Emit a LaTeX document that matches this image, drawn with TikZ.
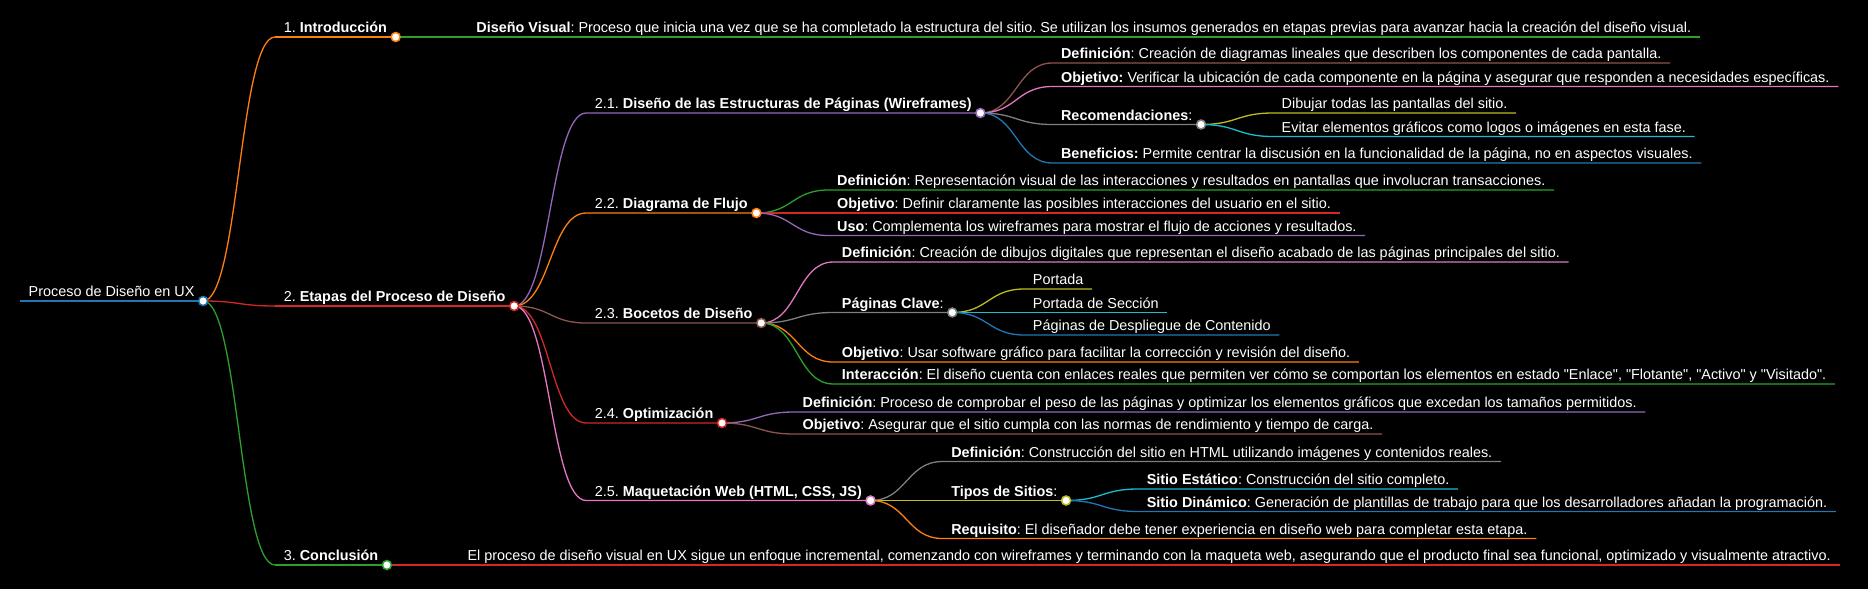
\documentclass[tikz,border=0pt]{standalone}
\usepackage{fontspec}
\newfontfamily\mmfont{Liberation Sans}
\usepackage{xcolor}
\definecolor{mmblue}{HTML}{1F77B4}
\definecolor{mmorange}{HTML}{FF7F0E}
\definecolor{mmgreen}{HTML}{2CA02C}
\definecolor{mmred}{HTML}{D62728}
\definecolor{mmpurple}{HTML}{9467BD}
\definecolor{mmbrown}{HTML}{8C564B}
\definecolor{mmpink}{HTML}{E377C2}
\definecolor{mmgray}{HTML}{7F7F7F}
\definecolor{mmolive}{HTML}{BCBD22}
\definecolor{mmcyan}{HTML}{17BECF}
\tikzset{
  every node/.style={
    text=white, font=\mmfont\fontsize{14.4}{17}\selectfont\frenchspacing
  }
}
\usetikzlibrary{positioning}
\usetikzlibrary{calc}

\begin{document}
\begin{tikzpicture}[x=1pt,y=1pt,
    topic/.style={anchor=south west, inner xsep=8.5pt, inner ysep=4pt,
      text height=10.5pt, text depth=0pt},
    link/.style={line width=1.3pt},
    nodedot/.style={circle, fill=white, line width=1.5pt,
      minimum size=9pt, inner sep=0pt}]
    \useasboundingbox (0,0) rectangle (1868,-589);
    \fill[black] (0,0) rectangle (1868,-589);

    % root and first level
    \node[topic] (root) at (20,-301) {Proceso de Diseño en UX};
    \node[topic, right=72pt of root.south east, anchor=south west, yshift=264pt] (intro) {1. \textbf{Introducción}};
    \node[topic, right=72pt of root.south east, anchor=south west, yshift=-5pt] (etapas) {2. \textbf{Etapas del Proceso de Diseño}};
    \node[topic, right=72pt of root.south east, anchor=south west, yshift=-264pt] (concl) {3. \textbf{Conclusión}};

    \node[topic, right=72pt of intro.south east, anchor=south west] (vis) {\textbf{Diseño Visual}: Proceso que inicia una vez que se ha completado la estructura del sitio. Se utilizan los insumos generados en etapas previas para avanzar hacia la creación del diseño visual.};
    \node[topic, right=72pt of concl.south east, anchor=south west] (fin) {El proceso de diseño visual en UX sigue un enfoque incremental, comenzando con wireframes y terminando con la maqueta web, asegurando que el producto final sea funcional, optimizado y visualmente atractivo.};

    % etapas
    \node[topic, right=72pt of etapas.south east, anchor=south west, yshift=193pt] (wire) {2.1. \textbf{Diseño de las Estructuras de Páginas (Wireframes)}};
    \node[topic, right=72pt of etapas.south east, anchor=south west, yshift=93pt] (flujo) {2.2. \textbf{Diagrama de Flujo}};
    \node[topic, right=72pt of etapas.south east, anchor=south west, yshift=-17pt] (boce) {2.3. \textbf{Bocetos de Diseño}};
    \node[topic, right=72pt of etapas.south east, anchor=south west, yshift=-117pt] (opti) {2.4. \textbf{Optimización}};
    \node[topic, right=72pt of etapas.south east, anchor=south west, yshift=-194.5pt] (maq) {2.5. \textbf{Maquetación Web (HTML, CSS, JS)}};

    % wireframes
    \node[topic, right=72pt of wire.south east, anchor=south west, yshift=50pt] (wdef) {\textbf{Definición}: Creación de diagramas lineales que describen los componentes de cada pantalla.};
    \node[topic, right=72pt of wire.south east, anchor=south west, yshift=26.5pt] (wobj) {\textbf{Objetivo:} Verificar la ubicación de cada componente en la página y asegurar que responden a necesidades específicas.};
    \node[topic, right=72pt of wire.south east, anchor=south west, yshift=-11.5pt] (wrec) {\textbf{Recomendaciones}:};
    \node[topic, right=72pt of wire.south east, anchor=south west, yshift=-50pt] (wben) {\textbf{Beneficios:} Permite centrar la discusión en la funcionalidad de la página, no en aspectos visuales.};
    \node[topic, right=72pt of wrec.south east, anchor=south west, yshift=11.5pt] (wrec1) {Dibujar todas las pantallas del sitio.};
    \node[topic, right=72pt of wrec.south east, anchor=south west, yshift=-12pt] (wrec2) {Evitar elementos gráficos como logos o imágenes en esta fase.};

    % flujo
    \node[topic, right=72pt of flujo.south east, anchor=south west, yshift=23pt] (fdef) {\textbf{Definición}: Representación visual de las interacciones y resultados en pantallas que involucran transacciones.};
    \node[topic, right=72pt of flujo.south east, anchor=south west] (fobj) {\textbf{Objetivo}: Definir claramente las posibles interacciones del usuario en el sitio.};
    \node[topic, right=72pt of flujo.south east, anchor=south west, yshift=-22.5pt] (fuso) {\textbf{Uso}: Complementa los wireframes para mostrar el flujo de acciones y resultados.};

    % bocetos
    \node[topic, right=72pt of boce.south east, anchor=south west, yshift=61pt] (bdef) {\textbf{Definición}: Creación de dibujos digitales que representan el diseño acabado de las páginas principales del sitio.};
    \node[topic, right=72pt of boce.south east, anchor=south west, yshift=10.5pt] (bpag) {\textbf{Páginas Clave}:};
    \node[topic, right=72pt of boce.south east, anchor=south west, yshift=-39pt] (bobj) {\textbf{Objetivo}: Usar software gráfico para facilitar la corrección y revisión del diseño.};
    \node[topic, right=72pt of boce.south east, anchor=south west, yshift=-61pt] (bint) {\textbf{Interacción}: El diseño cuenta con enlaces reales que permiten ver cómo se comportan los elementos en estado "Enlace", "Flotante", "Activo" y "Visitado".};
    \node[topic, right=72pt of bpag.south east, anchor=south west, yshift=23.5pt] (bpag1) {Portada};
    \node[topic, right=72pt of bpag.south east, anchor=south west] (bpag2) {Portada de Sección};
    \node[topic, right=72pt of bpag.south east, anchor=south west, yshift=-22.5pt] (bpag3) {Páginas de Despliegue de Contenido};

    % optimizacion
    \node[topic, right=72pt of opti.south east, anchor=south west, yshift=11pt] (odef) {\textbf{Definición}: Proceso de comprobar el peso de las páginas y optimizar los elementos gráficos que excedan los tamaños permitidos.};
    \node[topic, right=72pt of opti.south east, anchor=south west, yshift=-11pt] (oobj) {\textbf{Objetivo}: Asegurar que el sitio cumpla con las normas de rendimiento y tiempo de carga.};

    % maquetacion
    \node[topic, right=72pt of maq.south east, anchor=south west, yshift=39pt] (mdef) {\textbf{Definición}: Construcción del sitio en HTML utilizando imágenes y contenidos reales.};
    \node[topic, right=72pt of maq.south east, anchor=south west] (mtip) {\textbf{Tipos de Sitios}:};
    \node[topic, right=72pt of maq.south east, anchor=south west, yshift=-38pt] (mreq) {\textbf{Requisito}: El diseñador debe tener experiencia en diseño web para completar esta etapa.};
    \node[topic, right=72pt of mtip.south east, anchor=south west, yshift=11.5pt] (mtip1) {\textbf{Sitio Estático}: Construcción del sitio completo.};
    \node[topic, right=72pt of mtip.south east, anchor=south west, yshift=-11pt] (mtip2) {\textbf{Sitio Dinámico}: Generación de plantillas de trabajo para que los desarrolladores añadan la programación.};

    % links, parent/child/colour
    \foreach \a/\b/\col in {root/intro/mmorange, root/etapas/mmred, root/concl/mmgreen,
        intro/vis/mmgreen, concl/fin/mmred,
        etapas/wire/mmpurple, etapas/flujo/mmorange, etapas/boce/mmbrown, etapas/opti/mmred, etapas/maq/mmpink,
        wire/wdef/mmbrown, wire/wobj/mmpink, wire/wrec/mmgray, wire/wben/mmblue,
        wrec/wrec1/mmolive, wrec/wrec2/mmcyan,
        flujo/fdef/mmgreen, flujo/fobj/mmred, flujo/fuso/mmpurple,
        boce/bdef/mmpink, boce/bpag/mmgray, boce/bobj/mmorange, boce/bint/mmgreen,
        bpag/bpag1/mmolive, bpag/bpag2/mmcyan, bpag/bpag3/mmblue,
        opti/odef/mmpurple, opti/oobj/mmbrown,
        maq/mdef/mmgray, maq/mtip/mmolive, maq/mreq/mmorange,
        mtip/mtip1/mmcyan, mtip/mtip2/mmblue}
      \draw[link,\col] let \p1=(\a.south east), \p2=(\b.south west) in
        (\p1) .. controls ({(\x1+\x2)/2},\y1) and ({(\x1+\x2)/2},\y2) .. (\p2)
        -- (\b.south east);

    \draw[line width=2pt,mmblue] (root.south west) -- (root.south east);
    \foreach \a/\col in {intro/mmorange, etapas/mmred, concl/mmgreen}
      \draw[link,\col] (\a.south west) -- (\a.south east);

    % dots on nodes with children
    \foreach \a/\col in {root/mmblue, intro/mmorange, etapas/mmred, concl/mmgreen,
        wire/mmpurple, flujo/mmorange, boce/mmbrown, opti/mmred, maq/mmpink,
        wrec/mmgray, bpag/mmgray, mtip/mmolive}
      \node[nodedot, draw=\col] at (\a.south east) {};
\end{tikzpicture}
\end{document}
